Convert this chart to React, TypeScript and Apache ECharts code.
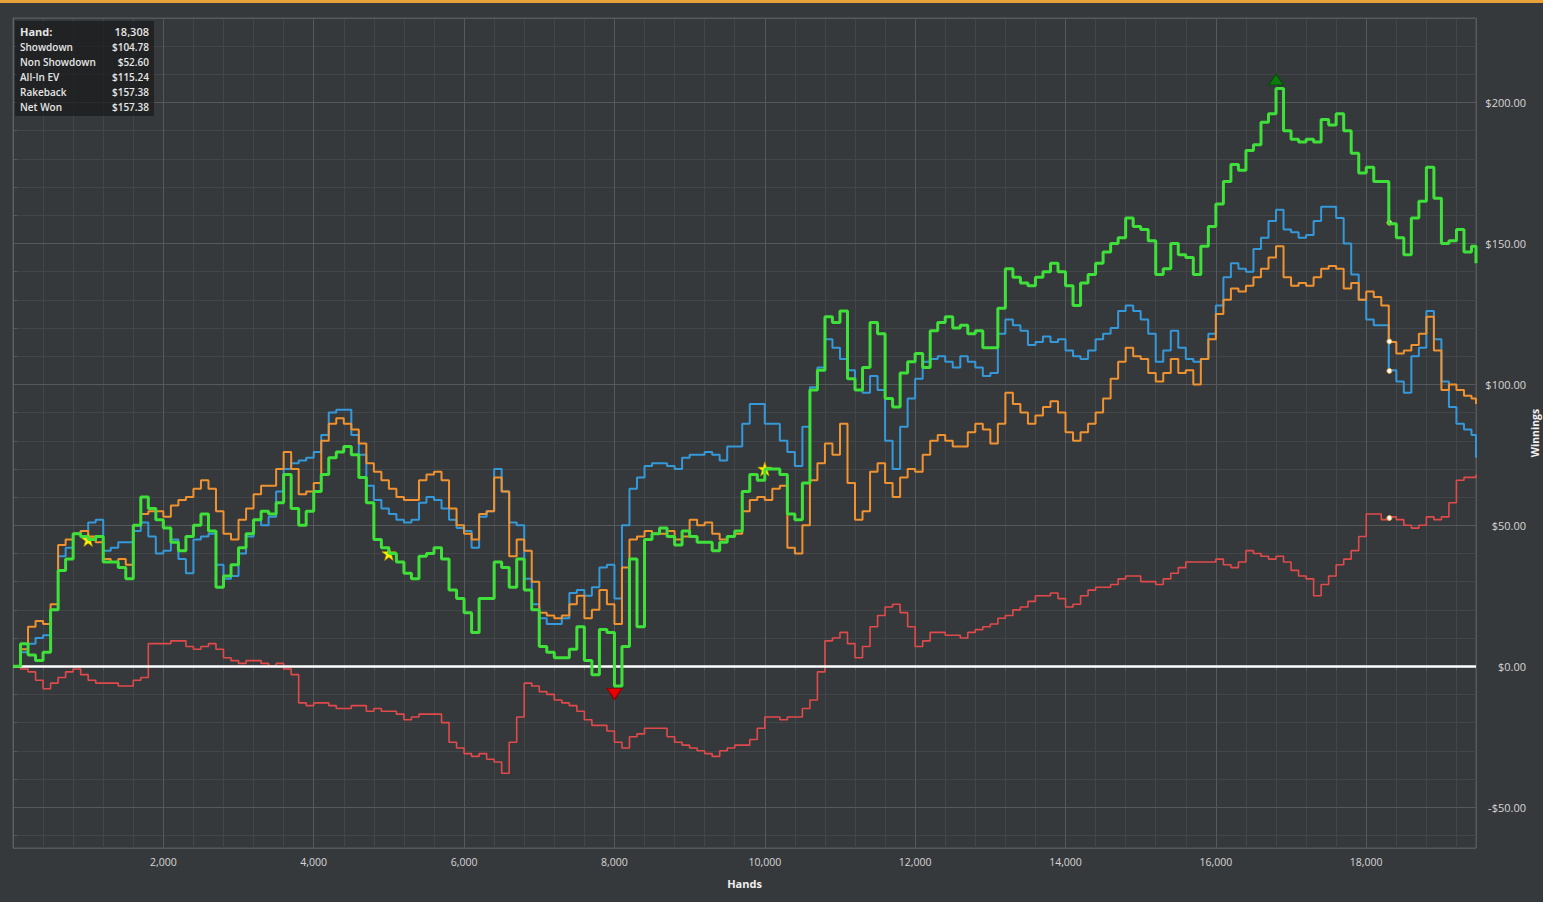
import React, { useEffect, useRef } from "react";
import * as echarts from "echarts";

// ---------- data ----------
const hands = [
  0, 100, 200, 300, 400, 500, 600, 700, 800, 900, 1000, 1100, 1200, 1300, 1400, 1500, 1600, 1700, 1800, 1900,
  2000, 2100, 2200, 2300, 2400, 2500, 2600, 2700, 2800, 2900, 3000, 3100, 3200, 3300, 3400, 3500, 3600, 3700, 3800, 3900,
  4000, 4100, 4200, 4300, 4400, 4500, 4600, 4700, 4800, 4900, 5000, 5100, 5200, 5300, 5400, 5500, 5600, 5700, 5800, 5900,
  6000, 6100, 6200, 6300, 6400, 6500, 6600, 6700, 6800, 6900, 7000, 7100, 7200, 7300, 7400, 7500, 7600, 7700, 7800, 7900,
  8000, 8100, 8200, 8300, 8400, 8500, 8600, 8700, 8800, 8900, 9000, 9100, 9200, 9300, 9400, 9500, 9600, 9700, 9800, 9900,
  10000, 10100, 10200, 10300, 10400, 10500, 10600, 10700, 10800, 10900, 11000, 11100, 11200, 11300, 11400, 11500, 11600, 11700, 11800, 11900,
  12000, 12100, 12200, 12300, 12400, 12500, 12600, 12700, 12800, 12900, 13000, 13100, 13200, 13300, 13400, 13500, 13600, 13700, 13800, 13900,
  14000, 14100, 14200, 14300, 14400, 14500, 14600, 14700, 14800, 14900, 15000, 15100, 15200, 15300, 15400, 15500, 15600, 15700, 15800, 15900,
  16000, 16100, 16200, 16300, 16400, 16500, 16600, 16700, 16800, 16900, 17000, 17100, 17200, 17300, 17400, 17500, 17600, 17700, 17800, 17900,
  18000, 18100, 18200, 18300, 18400, 18500, 18600, 18700, 18800, 18900, 19000, 19100, 19200, 19300, 19400, 19460,
];

const netWon = [
  0, 8, 4, 2, 5, 20, 34, 38, 47, 46, 45, 46, 37, 37, 35, 31, 50, 60, 56, 52,
  49, 44, 41, 46, 50, 54, 48, 28, 32, 36, 42, 47, 52, 55, 54, 58, 68, 56, 50, 55,
  62, 68, 74, 76, 78, 75, 67, 58, 45, 42, 40, 37, 33, 31, 39, 40, 42, 38, 27, 24,
  19, 12, 24, 24, 37, 35, 28, 38, 27, 20, 7, 5, 3, 3, 6, 14, 2, -3, 13, 12,
  -7, 7, 38, 14, 45, 47, 49, 46, 43, 48, 46, 44, 44, 41, 44, 46, 48, 62, 68, 66,
  70, 70, 68, 54, 52, 65, 98, 105, 124, 122, 126, 102, 98, 106, 122, 118, 95, 92, 104, 108,
  111, 106, 119, 122, 124, 120, 121, 118, 119, 113, 113, 127, 141, 138, 136, 135, 138, 140, 143, 140,
  135, 128, 136, 139, 143, 147, 150, 152, 159, 156, 155, 151, 139, 141, 150, 146, 145, 139, 149, 156,
  164, 172, 178, 176, 183, 185, 193, 196, 205, 190, 187, 186, 187, 186, 194, 192, 196, 190, 182, 175,
  177, 172, 172, 157, 152, 146, 159, 165, 177, 166, 150, 151, 155, 147, 149, 143,
];

const showdown = [
  0, 5, 8, 10, 11, 20, 39, 42, 47, 48, 51, 52, 41, 42, 44, 44, 48, 51, 46, 40,
  41, 45, 38, 33, 45, 46, 47, 36, 31, 32, 40, 46, 52, 50, 53, 62, 70, 72, 73, 74,
  76, 82, 90, 91, 91, 82, 75, 64, 59, 56, 54, 52, 51, 52, 58, 60, 59, 56, 52, 49,
  48, 42, 53, 55, 70, 62, 51, 50, 31, 22, 17, 15, 15, 17, 26, 27, 25, 28, 35, 36,
  24, 50, 63, 67, 71, 72, 72, 71, 70, 74, 75, 75, 76, 75, 73, 78, 78, 86, 93, 93,
  86, 86, 80, 76, 71, 85, 99, 106, 116, 113, 109, 105, 98, 97, 103, 98, 80, 70, 85, 95,
  102, 108, 109, 110, 108, 106, 110, 108, 106, 103, 104, 118, 123, 121, 119, 114, 115, 117, 115, 116,
  112, 110, 109, 112, 116, 118, 120, 126, 128, 126, 123, 118, 108, 112, 119, 113, 109, 108, 109, 118,
  128, 138, 143, 141, 140, 148, 152, 158, 162, 155, 154, 152, 153, 158, 163, 163, 159, 150, 139, 130,
  123, 121, 121, 105, 101, 97, 110, 113, 126, 116, 101, 92, 86, 84, 82, 74,
];

const allInEv = [
  0, 6, 14, 16, 15, 22, 43, 45, 47, 48, 46, 44, 38, 37, 38, 36, 50, 54, 55, 55,
  53, 57, 59, 60, 63, 66, 63, 55, 47, 45, 52, 56, 61, 64, 64, 70, 76, 70, 61, 62,
  65, 80, 86, 88, 86, 84, 79, 72, 69, 66, 63, 60, 59, 59, 66, 68, 69, 66, 56, 50,
  47, 45, 54, 55, 67, 62, 39, 45, 41, 30, 19, 18, 17, 18, 22, 25, 17, 20, 27, 22,
  15, 35, 45, 46, 48, 47, 47, 48, 45, 46, 52, 50, 51, 47, 45, 46, 47, 55, 59, 60,
  59, 63, 64, 42, 40, 50, 66, 72, 79, 75, 86, 65, 52, 55, 69, 72, 65, 60, 67, 70,
  69, 75, 80, 82, 80, 78, 78, 83, 86, 84, 79, 86, 97, 93, 90, 86, 89, 92, 94, 90,
  83, 80, 83, 86, 90, 95, 102, 108, 113, 110, 109, 104, 101, 104, 109, 104, 105, 100, 109, 116,
  125, 130, 134, 133, 135, 138, 141, 145, 149, 138, 135, 136, 135, 138, 141, 142, 141, 134, 136, 130,
  133, 131, 128, 115, 111, 112, 114, 118, 124, 112, 98, 100, 98, 96, 95, 93,
];

const nonShowdown = [
  0, -1, -2, -5, -8, -6, -4, -2, -1, -3, -5, -6, -6, -6, -7, -7, -5, -4, 8, 8,
  8, 9, 9, 7, 6, 7, 8, 6, 3, 2, 1, 2, 2, 1, 0, 1, -1, -3, -13, -14,
  -13, -13, -14, -15, -15, -14, -14, -16, -15, -16, -16, -17, -19, -18, -17, -17, -17, -20, -27, -29,
  -31, -32, -31, -33, -34, -38, -27, -18, -6, -7, -9, -10, -12, -13, -14, -16, -19, -21, -21, -23,
  -27, -29, -25, -24, -22, -22, -22, -25, -27, -28, -29, -30, -31, -32, -30, -29, -28, -28, -26, -22,
  -18, -18, -19, -18, -18, -15, -12, -2, 9, 10, 12, 8, 3, 7, 14, 18, 21, 22, 19, 14,
  7, 9, 12, 12, 11, 11, 10, 12, 13, 14, 15, 17, 18, 20, 21, 23, 25, 25, 26, 24,
  21, 22, 25, 27, 28, 28, 29, 31, 32, 32, 30, 30, 29, 31, 33, 35, 37, 37, 37, 37,
  38, 36, 35, 37, 41, 40, 39, 38, 39, 37, 34, 32, 31, 25, 29, 32, 36, 38, 41, 46,
  54, 54, 52, 53, 52, 50, 49, 50, 53, 52, 53, 58, 66, 67, 67, 68,
];

const milestoneHands = [1000, 5000, 10000];

const cursorHand = 18308;
const cursorShowdown = 104.78;
const cursorNonShowdown = 52.6;
const cursorAllInEv = 115.24;
const cursorRakeback = 157.38;
const cursorNetWon = 157.38;

const boxLabels = ["Hand:", "Showdown", "Non Showdown", "All-In EV", "Rakeback", "Net Won"];

const xAxisTitle = "Hands";
const yAxisTitle = "Winnings";

const xMin = 0;
const xMax = 19460;
const xMajor = 2000;
const xMinor = 400;
const yMin = -64.5;
const yMax = 230;

// ---------- style ----------
const BG = "#36393c";
const MINOR = "#434649";
const MAJOR = "#56595c";
const LABEL = "#d6d6d6";
const FONT = "'Open Sans', 'Noto Sans', sans-serif";

const GREEN = "#3fe03a";
const BLUE = "#3598d8";
const ORANGE = "#f0922f";
const RED = "#e04a4a";

const STAR = "path://M50,2 L61,36 L97,36 L68,57 L79,92 L50,71 L21,92 L32,57 L3,36 L39,36 Z";

const money = (v: number) => (v < 0 ? "-" : "") + "$" + Math.abs(v).toFixed(2);
const withCommas = (v: number) => v.toLocaleString("en-US");

const pairs = (ys: number[]) => hands.map((h, i) => [h, ys[i]]);

const cursorDot = (v: number) => ({
  coord: [cursorHand, v],
  symbol: "circle",
  symbolSize: 5,
  itemStyle: { color: "#ffffff", borderColor: "#f0a53a", borderWidth: 1 },
});

function buildOption() {
  const boxValues = [
    withCommas(cursorHand),
    money(cursorShowdown),
    money(cursorNonShowdown),
    money(cursorAllInEv),
    money(cursorRakeback),
    money(cursorNetWon),
  ];
  const rowY = [31, 46.5, 61.5, 76.5, 91.5, 106.5];
  const boxTexts: any[] = [];
  boxLabels.forEach((lab, i) => {
    const first = i === 0;
    boxTexts.push({
      type: "text",
      x: 20,
      y: rowY[i],
      z: 101,
      style: {
        text: lab,
        fill: "#e6e6e6",
        fontFamily: FONT,
        fontSize: first ? 11 : 10,
        fontWeight: first ? 700 : 600,
        align: "left",
        verticalAlign: "middle",
        textAlign: "left",
        textVerticalAlign: "middle",
      },
    });
    boxTexts.push({
      type: "text",
      x: 149,
      y: rowY[i],
      z: 101,
      style: {
        text: boxValues[i],
        fill: "#e6e6e6",
        fontFamily: FONT,
        fontSize: first ? 11 : 10,
        fontWeight: 600,
        align: "right",
        verticalAlign: "middle",
        textAlign: "right",
        textVerticalAlign: "middle",
      },
    });
  });

  const starPoints = milestoneHands.map((h) => ({
    coord: [h, netWon[hands.indexOf(h)]],
    symbol: STAR,
    symbolSize: 14,
    itemStyle: { color: "#fff200", borderColor: "#c79a00", borderWidth: 0.6 },
  }));

  const lineBase = {
    type: "line",
    xAxisIndex: 1,
    yAxisIndex: 1,
    showSymbol: false,
    step: "end",
  };

  return {
    animation: false,
    backgroundColor: BG,
    grid: {
      left: 13,
      right: 67,
      top: 18,
      bottom: 54,
      show: true,
      borderColor: MAJOR,
      borderWidth: 1,
      backgroundColor: "transparent",
      containLabel: false,
      outerBoundsMode: "none",
    },
    xAxis: [
      {
        type: "value",
        position: "bottom",
        min: xMin,
        max: xMax,
        interval: xMinor,
        z: 0,
        axisLine: { show: false },
        axisTick: { show: true, length: 4, lineStyle: { color: MAJOR } },
        axisLabel: { show: false },
        splitLine: { show: true, lineStyle: { color: MINOR, width: 1 } },
      },
      {
        type: "value",
        position: "bottom",
        min: xMin,
        max: xMax,
        interval: xMajor,
        z: 1,
        axisLine: { show: true, lineStyle: { color: "#5e6164" } },
        axisTick: { show: false },
        axisLabel: {
          show: true,
          color: LABEL,
          fontFamily: FONT,
          fontSize: 10.5,
          margin: 8,
          formatter: (v: number) => (v > 0 && v % xMajor === 0 ? withCommas(v) : ""),
        },
        splitLine: { show: true, lineStyle: { color: MAJOR, width: 1 } },
        name: xAxisTitle,
        nameLocation: "middle",
        nameGap: 30,
        nameTextStyle: { color: "#f0f0f0", fontFamily: FONT, fontSize: 11, fontWeight: 700 },
      },
    ],
    yAxis: [
      {
        type: "value",
        position: "right",
        min: yMin,
        max: yMax,
        splitNumber: 30,
        z: 0,
        axisLine: { show: false },
        axisTick: { show: true, length: 4, lineStyle: { color: MAJOR } },
        axisLabel: { show: false },
        splitLine: { show: true, lineStyle: { color: MINOR, width: 1 } },
      },
      {
        type: "value",
        position: "right",
        min: yMin,
        max: yMax,
        splitNumber: 6,
        z: 1,
        axisLine: { show: true, lineStyle: { color: "#5e6164" } },
        axisTick: { show: false },
        axisLabel: {
          show: true,
          color: LABEL,
          fontFamily: FONT,
          fontSize: 11,
          align: "right",
          margin: 50,
          formatter: (v: number) => (Math.abs(v % 50) < 1e-9 ? money(v) : ""),
        },
        splitLine: { show: true, lineStyle: { color: MAJOR, width: 1 } },
      },
    ],
    series: [
      {
        ...lineBase,
        name: "Non Showdown",
        data: pairs(nonShowdown),
        lineStyle: { color: RED, width: 1.6 },
        z: 2,
        markLine: {
          silent: true,
          symbol: ["none", "none"],
          label: { show: false },
          lineStyle: { color: "#ffffff", width: 2.5, type: "solid" },
          data: [{ yAxis: 0 }],
        },
        markPoint: { label: { show: false }, data: [cursorDot(cursorNonShowdown)] },
      },
      {
        ...lineBase,
        name: "Showdown",
        data: pairs(showdown),
        lineStyle: { color: BLUE, width: 2 },
        z: 3,
        markPoint: { label: { show: false }, data: [cursorDot(cursorShowdown)] },
      },
      {
        ...lineBase,
        name: "All-In EV",
        data: pairs(allInEv),
        lineStyle: { color: ORANGE, width: 2 },
        z: 4,
        markPoint: { label: { show: false }, data: [cursorDot(cursorAllInEv)] },
      },
      {
        ...lineBase,
        name: "Net Won",
        data: pairs(netWon),
        lineStyle: { color: GREEN, width: 3 },
        z: 5,
        markPoint: {
          label: { show: false },
          data: [
            {
              type: "max",
              symbol: "triangle",
              symbolSize: [15, 11],
              symbolOffset: [0, -9],
              itemStyle: { color: "#0c7a0c", borderColor: "#064a06", borderWidth: 1 },
            },
            {
              type: "min",
              symbol: "triangle",
              symbolRotate: 180,
              symbolSize: [15, 11],
              symbolOffset: [0, 8],
              itemStyle: { color: "#e80000", borderColor: "#8c0000", borderWidth: 1 },
            },
            ...starPoints,
            cursorDot(cursorNetWon),
          ],
        },
      },
    ],
    graphic: [
      {
        type: "rect",
        shape: { x: 0, y: 0, width: 1543, height: 3 },
        style: { fill: "#e9a23b" },
        z: 100,
      },
      {
        type: "rect",
        shape: { x: 15, y: 21, width: 139, height: 95 },
        style: { fill: "rgba(26,27,29,0.74)" },
        z: 100,
      },
      {
        type: "text",
        x: 1535,
        y: 433,
        rotation: Math.PI / 2,
        z: 101,
        style: {
          text: yAxisTitle,
          fill: "#f0f0f0",
          fontFamily: FONT,
          fontSize: 10.5,
          fontWeight: 700,
          align: "center",
          verticalAlign: "middle",
          textAlign: "center",
          textVerticalAlign: "middle",
        },
      },
      ...boxTexts,
    ],
  };
}

export default function App() {
  const ref = useRef<HTMLDivElement>(null);
  useEffect(() => {
    document.body.style.margin = "0";
    if (!ref.current) return;
    const chart = echarts.init(ref.current, undefined, { renderer: "svg" });
    chart.setOption(buildOption() as any);
    return () => {
      chart.dispose();
    };
  }, []);
  return <div ref={ref} style={{ width: 1543, height: 902, background: BG }} />;
}
